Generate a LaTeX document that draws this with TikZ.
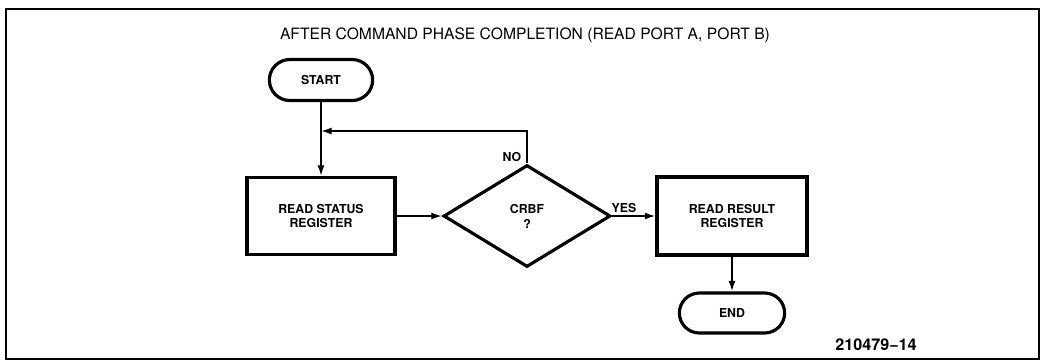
\documentclass[tikz,border=0pt]{standalone}
\usepackage{fontspec}
\setmainfont{TeX Gyre Heros}
\usetikzlibrary{shapes.geometric,shapes.misc,arrows.meta,positioning}

\begin{document}
\begin{tikzpicture}[x=0.02cm, y=-0.02cm,
        box/.style={draw, line width=1.8pt, minimum width=2.96cm, minimum height=1.54cm,
            align=center, font=\fontsize{7}{8.5}\selectfont\bfseries},
        term/.style={draw, rounded rectangle, line width=1.8pt, minimum width=2.3cm,
            minimum height=0.82cm, font=\fontsize{7}{8.5}\selectfont\bfseries},
        decision/.style={draw, diamond, aspect=1.64, line width=1.8pt, inner sep=0pt,
            minimum width=3.34cm, minimum height=2.04cm, align=center,
            font=\fontsize{7}{8.5}\selectfont\bfseries},
        flow/.style={line width=1pt, -{Latex[length=6pt,width=4pt]}},
        lbl/.style={font=\fontsize{7}{8.5}\selectfont\bfseries}]
        \useasboundingbox (0,0) rectangle (1043,363);
        % Frame
        \draw[line width=1pt] (6,9) rectangle (1039,359);
        % Title
        \node[font=\fontsize{8.9}{10}\selectfont] (title) at (525,35)
            {AFTER COMMAND PHASE COMPLETION (READ PORT A, PORT B)};

        % Blocks
        \node[term] (start) at (321,80) {START};
        \node[box] (status) at (321,216) {READ STATUS\\REGISTER};
        \node[decision] (crbf) at (527,216) {CRBF\\?};
        \node[box, minimum width=3cm, minimum height=1.56cm] (result) at (732,216)
            {READ RESULT\\REGISTER};
        \node[term, minimum width=2.34cm, minimum height=0.8cm] (end) at (732,313) {END};
        \coordinate (loop) at (527,131);

        % Flow
        \draw[flow] (start) -- (status);
        \draw[flow] (status) -- (crbf);
        \draw[flow] (crbf) -- (result);
        \draw[flow] (result) -- (end);
        \draw[flow] (crbf.north) -- (loop) -- (start.south |- loop);

        % Labels
        \node[lbl] (no) at (512,157) {NO};
        \node[lbl] (yes) at (624,208) {YES};
        \node[font=\fontsize{9.2}{10}\selectfont\bfseries] (fignum) at (876,345) {210479−14};
    \end{tikzpicture}
\end{document}
